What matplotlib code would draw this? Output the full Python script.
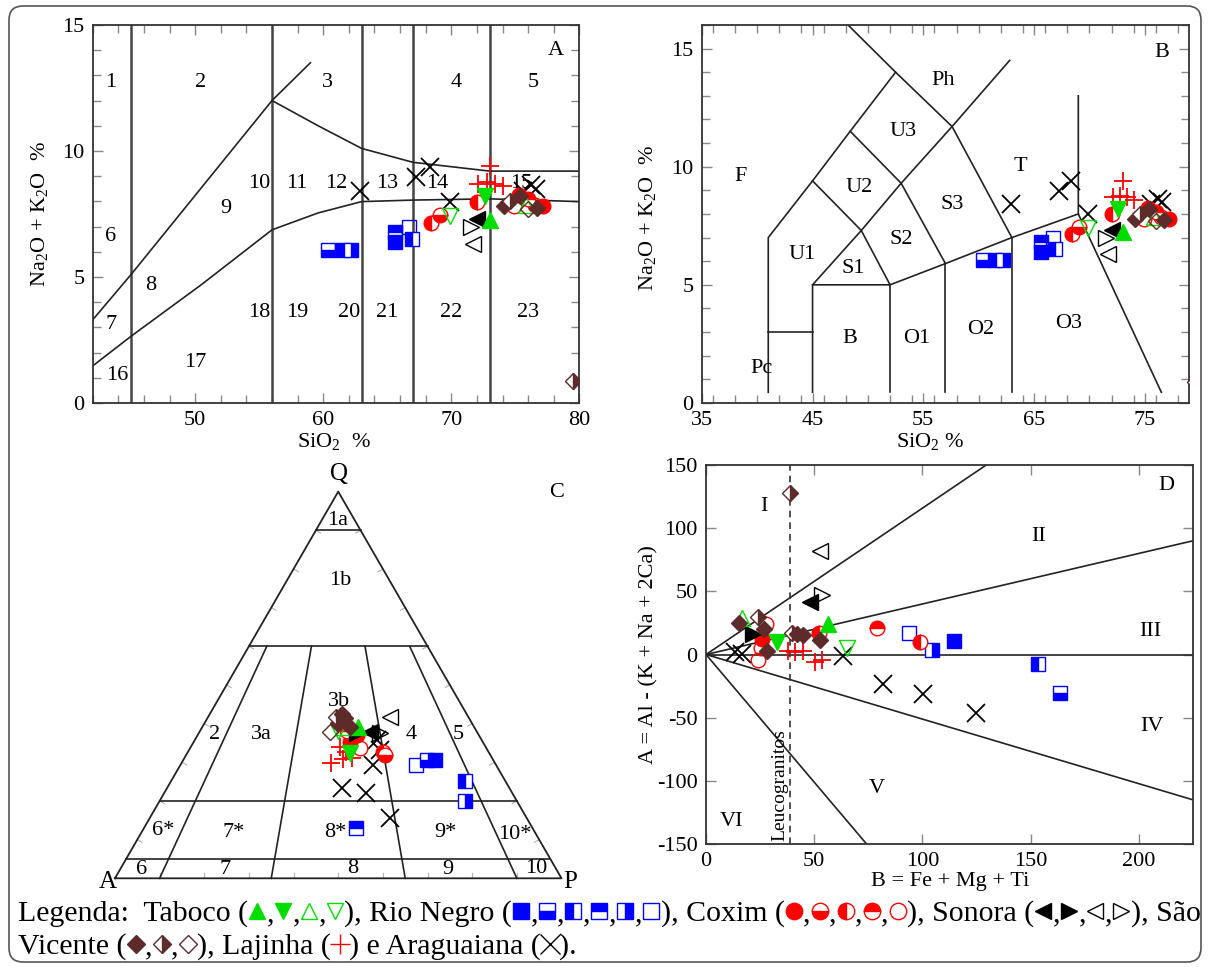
import numpy as np
import matplotlib
matplotlib.use('Agg')
import matplotlib.pyplot as plt
from matplotlib.patches import FancyBboxPatch
from matplotlib.ticker import MultipleLocator, FixedLocator

plt.rcParams['font.family'] = ['Liberation Serif', 'DejaVu Serif']
plt.rcParams['mathtext.fontset'] = 'custom'
plt.rcParams['mathtext.rm'] = 'Liberation Serif'
plt.rcParams['axes.unicode_minus'] = False

# colours of the units
GREEN = '#00dd00'
BLUE = '#0000ff'
RED = '#ff0000'
BROWN = '#5e2b2b'
BLACK = '#000000'

# marker styles per unit (index used by the *_sty lists)
tab_styles = [('^', 'full'), ('v', 'full'), ('^', 'none'), ('v', 'none')]
rn_styles = [('s', 'full'), ('s', 'bottom'), ('s', 'left'), ('s', 'top'), ('s', 'right'), ('s', 'none')]
cx_styles = [('o', 'full'), ('o', 'bottom'), ('o', 'left'), ('o', 'top'), ('o', 'none')]
so_styles = [('<', 'full'), ('>', 'full'), ('<', 'none'), ('>', 'none')]
sv_styles = [('D', 'full'), ('D', 'right'), ('D', 'none')]
lj_styles = [('+', 'full')]
ar_styles = [('x', 'full')]

# ---- A and B: SiO2 vs Na2O+K2O ----
tab_sio2 = [73.0, 72.6, 75.8, 69.9]
tab_alk = [7.25, 8.2, 7.85, 7.4]
tab_sty = [0, 1, 2, 3]

rn_sio2 = [60.4, 61.45, 62.2, 65.6, 65.6, 66.7, 66.9]
rn_alk = [6.07, 6.07, 6.07, 6.8, 6.4, 7.0, 6.5]
rn_sty = [1, 0, 4, 3, 0, 5, 2]

cx_sio2 = [68.4, 69.1, 72.0, 74.9, 76.5, 77.2, 75.3, 76.0]
cx_alk = [7.15, 7.46, 7.99, 7.8, 7.85, 7.8, 8.25, 8.1]
cx_sty = [2, 1, 2, 4, 4, 0, 0, 3]

so_sio2 = [72.0, 71.5, 71.7]
so_alk = [7.3, 7.0, 6.3]
so_sty = [0, 3, 2]

sv_sio2 = [74.1, 74.6, 75.4, 76.0, 76.7, 79.5]
sv_alk = [7.8, 8.0, 8.2, 7.7, 7.75, 0.87]
sv_sty = [0, 1, 0, 2, 0, 1]

lj_sio2 = [73.0, 72.1, 73.4, 74.0, 72.8]
lj_alk = [9.4, 8.7, 8.7, 8.6, 8.75]

ar_sio2 = [62.9, 67.25, 68.3, 69.9, 75.6, 76.2, 76.6]
ar_alk = [8.4, 8.98, 9.38, 7.99, 8.4, 8.65, 8.5]

# ---- C: QAP (Q, A, P in %) ----
tab_q = [39.2, 39.2, 32.3, 38.0]
tab_a = [29.3, 25.9, 31.3, 31.0]
tab_p = [31.5, 34.9, 36.4, 31.0]
tab_qsty = [2, 0, 1, 3]

rn_q = [29.3, 30.6, 30.6, 25.2, 20.1, 12.9]
rn_a = [18.0, 14.9, 13.1, 9.0, 11.6, 39.5]
rn_p = [52.7, 54.5, 56.3, 65.8, 68.3, 47.6]
rn_qsty = [5, 1, 0, 2, 4, 3]

cx_q = [37.1, 35.3, 33.6, 32.7, 32.0, 38.2]
cx_a = [27.3, 29.8, 28.4, 23.7, 23.5, 29.0]
cx_p = [35.6, 34.9, 38.0, 43.6, 44.5, 32.8]
cx_qsty = [0, 0, 4, 2, 1, 3]

so_q = [41.8, 37.9, 37.5, 37.5]
so_a = [17.5, 24.0, 21.9, 27.1]
so_p = [40.7, 38.1, 40.6, 35.4]
so_qsty = [2, 0, 3, 1]

sv_q = [37.9, 40.1, 41.4, 41.8, 39.2, 42.6]
sv_a = [33.0, 29.9, 27.8, 29.5, 27.8, 27.9]
sv_p = [29.1, 30.0, 30.8, 28.7, 33.0, 29.5]
sv_qsty = [2, 0, 0, 1, 0, 0]

lj_q = [29.7, 30.8, 31.0, 34.0, 32.7]
lj_a = [36.7, 33.5, 31.5, 32.6, 31.8]
lj_p = [33.6, 35.7, 37.5, 33.4, 35.5]

ar_q = [29.3, 23.3, 22.0, 15.5, 33.2, 35.8]
ar_a = [27.5, 37.6, 32.7, 30.7, 24.1, 23.5]
ar_p = [43.2, 39.1, 45.3, 53.8, 42.7, 40.7]

# ---- D: B = Fe+Mg+Ti vs A = Al-(K+Na+2Ca) ----
tab_b = [56.6, 32.7, 16.5, 65.1]
tab_A = [24.1, 10.1, 28.7, 4.9]
tab_dsty = [0, 1, 2, 3]

rn_b = [94.0, 104.4, 114.7, 153.3, 163.7]
rn_A = [16.8, 3.6, 10.7, -7.5, -30.7]
rn_dsty = [5, 4, 0, 2, 1]

cx_b = [25.8, 79.0, 52.0, 99.0, 27.8, 24.2, 25.5]
cx_A = [12.0, 20.7, 17.3, 10.1, 24.1, -4.4, 5.0]
cx_dsty = [0, 3, 2, 2, 4, 4, 4]

so_b = [48.1, 21.9, 52.7, 53.5]
so_A = [41.8, 16.2, 82.2, 47.1]
so_dsty = [0, 1, 2, 3]

sv_b = [38.9, 15.4, 24.2, 39.6, 45.0, 42.0, 52.7, 28.1, 27.0]
sv_A = [127.6, 25.2, 30.0, 17.3, 15.4, 16.0, 11.5, 3.0, 20.0]
sv_dsty = [1, 0, 1, 1, 0, 0, 0, 0, 0]

lj_b = [38.1, 41.2, 45.0, 50.4, 53.5]
lj_A = [3.0, 1.6, 3.0, -5.7, -4.4]

ar_b = [13.4, 16.5, 63.5, 81.7, 100.2, 124.9]
ar_A = [2.2, 0.5, -1.2, -23.4, -31.5, -46.6]

MS = {'s': 10, 'o': 10.5, '^': 11, 'v': 11, '<': 11, '>': 11, 'D': 8, 'x': 13, '+': 13}
FS = 16


def plot_group(ax, xs, ys, sty, styles, color):
    for x, y, k in zip(xs, ys, sty):
        m, fill = styles[k]
        kw = dict(marker=m, ls='none', color=color, mec=color, ms=MS[m], mew=1.0, zorder=5)
        if m in ('x', '+'):
            kw['mew'] = 1.3
        else:
            kw.update(fillstyle=fill, mfc=color, markerfacecoloralt='white')
        ax.plot([x], [y], **kw)


def style_ax(ax):
    ax.tick_params(which='both', direction='in', top=True, right=True,
                   color='#888888', labelsize=FS, pad=6)
    ax.tick_params(which='major', length=7, width=1)
    ax.tick_params(which='minor', length=6, width=1)
    for s in ax.spines.values():
        s.set_linewidth(1.3)
        s.set_color('#333333')


def tern(q, a, p):
    q, a, p = np.asarray(q, float), np.asarray(a, float), np.asarray(p, float)
    s = q + a + p
    return (p + q / 2) / s, (q / s) * np.sqrt(3) / 2


fig = plt.figure(figsize=(12.09, 9.67), dpi=100)
LC = '#222222'

# ---------------- panel A ----------------
axA = fig.add_axes([0.0767, 0.5833, 0.4025, 0.3909])
axA.set_xlim(42, 80)
axA.set_ylim(0, 15)
axA.xaxis.set_major_locator(FixedLocator([50, 60, 70, 80]))
axA.xaxis.set_minor_locator(MultipleLocator(2))
axA.yaxis.set_major_locator(MultipleLocator(5))
axA.yaxis.set_minor_locator(MultipleLocator(1))
style_ax(axA)
for xv in [45, 56, 63, 67, 73]:
    axA.plot([xv, xv], [0, 15], color='#444444', lw=1.8, zorder=2)
A_curves = [
    [(42, 3.3), (45, 5.1), (56, 12), (59, 13.5)],
    [(56, 12), (59.6, 11.0), (63, 10.1), (67, 9.55), (73, 9.2), (80, 9.2)],
    [(42, 1.47), (45, 2.65), (50.5, 4.7), (56, 6.87), (59.6, 7.54), (63, 7.99),
     (67, 8.05), (73, 8.1), (80, 7.99)],
]
for c in A_curves:
    xs, ys = zip(*c)
    axA.plot(xs, ys, color=LC, lw=1.2, zorder=2)
A_labels = [('1', 43.4, 12.7), ('2', 50.4, 12.7), ('3', 60.3, 12.7), ('4', 70.4, 12.7),
            ('5', 76.4, 12.7), ('6', 43.4, 6.6), ('7', 43.4, 3.13), ('8', 46.5, 4.67),
            ('9', 52.4, 7.7), ('10', 55.0, 8.7), ('11', 57.9, 8.7), ('12', 61.0, 8.7),
            ('13', 65.0, 8.7), ('14', 68.9, 8.7), ('15', 75.5, 8.7), ('16', 43.9, 1.07),
            ('17', 50.0, 1.6), ('18', 55.0, 3.6), ('19', 58.0, 3.6), ('20', 62.0, 3.6),
            ('21', 65.0, 3.6), ('22', 70.0, 3.6), ('23', 76.0, 3.6), ('A', 78.2, 14.0)]
for t, x, y in A_labels:
    axA.text(x, y, t, fontsize=FS, ha='center', va='center', zorder=3)
axA.set_xlabel(r'SiO$_\mathregular{2}$  %', fontsize=FS)
axA.set_ylabel(r'Na$_\mathregular{2}$O + K$_\mathregular{2}$O  %', fontsize=FS)
axA.xaxis.set_label_coords(0.495, -0.075)
axA.yaxis.set_label_coords(-0.086, 0.5)

# ---------------- panel B ----------------
axB = fig.add_axes([0.5805, 0.5833, 0.4030, 0.3909])
axB.set_xlim(35, 79)
axB.set_ylim(0, 16)
axB.xaxis.set_major_locator(FixedLocator([35, 45, 55, 65, 75]))
axB.xaxis.set_minor_locator(MultipleLocator(2))
axB.yaxis.set_major_locator(FixedLocator([0, 5, 10, 15]))
axB.yaxis.set_minor_locator(MultipleLocator(1))
style_ax(axB)
B_lines = [
    [(41, 0.45), (41, 7), (45, 9.4), (48.4, 11.5), (52.5, 14), (48.2, 16)],
    [(41, 3), (45, 3)],
    [(45, 0.45), (45, 5), (52, 5), (57, 5.9), (63, 7), (69, 8)],
    [(45, 5), (49.4, 7.3), (53, 9.3), (57.6, 11.7), (62.8, 14.5)],
    [(45, 9.4), (49.4, 7.3), (52, 5)],
    [(48.4, 11.5), (53, 9.3), (57, 5.9)],
    [(52.5, 14), (57.6, 11.7), (63, 7)],
    [(52, 0.45), (52, 5)],
    [(57, 0.45), (57, 5.9)],
    [(63, 0.45), (63, 7)],
    [(69, 13), (69, 8), (76.5, 0.45)],
]
for c in B_lines:
    xs, ys = zip(*c)
    axB.plot(xs, ys, color=LC, lw=1.2, zorder=2, clip_on=True)
B_labels = [('F', 38.5, 9.6), ('U1', 44.1, 6.3), ('S1', 48.7, 5.67), ('U2', 49.2, 9.1),
            ('S2', 53.0, 6.9), ('U3', 53.2, 11.5), ('S3', 57.6, 8.4), ('Ph', 56.8, 13.65),
            ('T', 63.8, 10.0), ('B', 48.4, 2.74), ('Pc', 40.4, 1.47), ('O1', 54.4, 2.74),
            ('O2', 60.2, 3.1), ('O3', 68.1, 3.38), ('B', 76.5, 14.85)]
for t, x, y in B_labels:
    axB.text(x, y, t, fontsize=FS, ha='center', va='center', zorder=3)
axB.set_xlabel(r'SiO$_\mathregular{2}$ %', fontsize=FS)
axB.set_ylabel(r'Na$_\mathregular{2}$O + K$_\mathregular{2}$O  %', fontsize=FS)
axB.xaxis.set_label_coords(0.468, -0.075)
axB.yaxis.set_label_coords(-0.088, 0.49)

for ax in (axA, axB):
    plot_group(ax, rn_sio2, rn_alk, rn_sty, rn_styles, BLUE)
    plot_group(ax, ar_sio2, ar_alk, [0] * len(ar_sio2), ar_styles, BLACK)
    plot_group(ax, cx_sio2, cx_alk, cx_sty, cx_styles, RED)
    plot_group(ax, so_sio2, so_alk, so_sty, so_styles, BLACK)
    plot_group(ax, lj_sio2, lj_alk, [0] * len(lj_sio2), lj_styles, RED)
    plot_group(ax, tab_sio2, tab_alk, tab_sty, tab_styles, GREEN)
    plot_group(ax, sv_sio2, sv_alk, sv_sty, sv_styles, BROWN)

# ---------------- panel C (QAP) ----------------
axC = fig.add_axes([0.0744, 0.0848, 0.4218, 0.4395])
axC.set_xlim(-0.056, 1.086)
axC.set_ylim(-0.015, 0.9368)
axC.axis('off')
h = np.sqrt(3) / 2
axC.plot([0, 1, 0.5, 0], [0, 0, h, 0], color=LC, lw=1.3, zorder=2)
for qv in [90, 60, 20, 5]:
    x1, y1 = tern(qv, 100 - qv, 0)
    x2, y2 = tern(qv, 0, 100 - qv)
    axC.plot([x1, x2], [y1, y2], color=LC, lw=1.2, zorder=2)
for r in [0.1, 0.35, 0.65, 0.9]:
    xt, yt = tern(60, 40 * (1 - r), 40 * r)
    xb, yb = tern(0, 100 * (1 - r), 100 * r)
    axC.plot([xt, xb], [yt, yb], color=LC, lw=1.2, zorder=2)
tl = 0.012
for t in np.arange(0.1, 0.95, 0.1):
    axC.plot([t, t], [0, tl], color='#b0b0b0', lw=0.8, zorder=1)
    axC.plot([0.5 * t, 0.5 * t + tl * h], [h * t, h * t - tl * 0.5], color='#b0b0b0', lw=0.8, zorder=1)
    axC.plot([1 - 0.5 * t, 1 - 0.5 * t - tl * h], [h * t, h * t - tl * 0.5], color='#b0b0b0', lw=0.8, zorder=1)
C_labels = [('1a', 0.498, 0.802), ('1b', 0.504, 0.668), ('3b', 0.502, 0.396), ('2', 0.222, 0.321),
            ('3a', 0.328, 0.321), ('4', 0.664, 0.321), ('5', 0.769, 0.321), ('6*', 0.107, 0.107),
            ('7*', 0.266, 0.102), ('8*', 0.4925, 0.102), ('9*', 0.741, 0.102), ('10*', 0.895, 0.097),
            ('6', 0.06, 0.02), ('7', 0.246, 0.02), ('8', 0.532, 0.022), ('9', 0.746, 0.02),
            ('10', 0.944, 0.022), ('C', 0.989, 0.863)]
for t, x, y in C_labels:
    axC.text(x, y, t, fontsize=FS, ha='center', va='center', zorder=3)
axC.text(0.502, 0.905, 'Q', fontsize=18, ha='center', va='center')
axC.text(-0.016, -0.008, 'A', fontsize=18, ha='center', va='center')
axC.text(1.02, -0.008, 'P', fontsize=18, ha='center', va='center')

groupsC = [(rn_q, rn_a, rn_p, rn_qsty, rn_styles, BLUE),
           (ar_q, ar_a, ar_p, [0] * 6, ar_styles, BLACK),
           (lj_q, lj_a, lj_p, [0] * 5, lj_styles, RED),
           (cx_q, cx_a, cx_p, cx_qsty, cx_styles, RED),
           (so_q, so_a, so_p, so_qsty, so_styles, BLACK),
           (tab_q, tab_a, tab_p, tab_qsty, tab_styles, GREEN),
           (sv_q, sv_a, sv_p, sv_qsty, sv_styles, BROWN)]
for q, a, p, sty, styles, col in groupsC:
    xs, ys = tern(q, a, p)
    plot_group(axC, xs, ys, sty, styles, col)

# ---------------- panel D ----------------
axD = fig.add_axes([0.5840, 0.1272, 0.4026, 0.3919])
axD.set_xlim(0, 225)
axD.set_ylim(-150, 150)
axD.xaxis.set_major_locator(MultipleLocator(50))
axD.yaxis.set_major_locator(MultipleLocator(50))
style_ax(axD)
D_lines = [[(0, 0), (129.5, 150)], [(0, 0), (225, 90)], [(0, 0), (225, 0)],
           [(0, 0), (225, -115)], [(0, 0), (74.2, -150)]]
for c in D_lines:
    xs, ys = zip(*c)
    axD.plot(xs, ys, color=LC, lw=1.2, zorder=2)
axD.plot([39, 39], [-150, 150], color='#333333', lw=1.2, ls=(0, (4, 3)), zorder=2)
axD.text(34, -103, 'Leucogranitos', rotation=90, fontsize=14, ha='center', va='center')
D_labels = [('D', 213, 134), ('I', 26.6, 117.5), ('II', 153.6, 93.8), ('III', 205.5, 18),
            ('IV', 206.3, -57), ('V', 78.9, -106), ('VI', 11.9, -132)]
for t, x, y in D_labels:
    axD.text(x, y, t, fontsize=FS, ha='center', va='center', zorder=3)
axD.set_xlabel('B = Fe + Mg + Ti', fontsize=FS)
axD.set_ylabel('A = Al - (K + Na + 2Ca)', fontsize=FS)
axD.xaxis.set_label_coords(0.501, -0.075)
axD.yaxis.set_label_coords(-0.097, 0.5)

plot_group(axD, rn_b, rn_A, rn_dsty, rn_styles, BLUE)
plot_group(axD, ar_b, ar_A, [0] * len(ar_b), ar_styles, BLACK)
plot_group(axD, lj_b, lj_A, [0] * len(lj_b), lj_styles, RED)
plot_group(axD, cx_b, cx_A, cx_dsty, cx_styles, RED)
plot_group(axD, so_b, so_A, so_dsty, so_styles, BLACK)
plot_group(axD, tab_b, tab_A, tab_dsty, tab_styles, GREEN)
plot_group(axD, sv_b, sv_A, sv_dsty, sv_styles, BROWN)

# ---------------- legend text + border ----------------
ov = fig.add_axes([0, 0, 1, 1], zorder=-1)
ov.set_xlim(0, 1209)
ov.set_ylim(967, 0)
ov.axis('off')
ov.add_patch(FancyBboxPatch((9, 6), 1192, 956, boxstyle='round,pad=0,rounding_size=14',
                            fill=False, ec='#555555', lw=1.2))


def mk(m, fill, col):
    return ('m', m, fill, col)


line1 = [('t', 'Legenda:  Taboco (', BLACK), mk('^', 'full', GREEN), ('t', ',', BLACK),
         mk('v', 'full', GREEN), ('t', ',', BLACK), mk('^', 'none', GREEN), ('t', ',', BLACK),
         mk('v', 'none', GREEN), ('t', '), Rio Negro (', BLACK)]
for i, (m, f) in enumerate(rn_styles):
    line1.append(mk(m, f, BLUE))
    line1.append(('t', ',' if i < 5 else '), Coxim (', BLACK))
for i, (m, f) in enumerate(cx_styles):
    line1.append(mk(m, f, RED))
    line1.append(('t', ',' if i < 4 else '), Sonora (', BLACK))
for i, (m, f) in enumerate(so_styles):
    line1.append(mk(m, f, BLACK))
    line1.append(('t', ',' if i < 3 else '), São', BLACK))
line2 = [('t', 'Vicente (', BLACK)]
for i, (m, f) in enumerate(sv_styles):
    line2.append(mk(m, f, BROWN))
    line2.append(('t', ',' if i < 2 else '), Lajinha (', BLACK))
line2 += [mk('+', 'full', RED), ('t', ') e Araguaiana (', BLACK), mk('x', 'full', BLACK), ('t', ').', BLACK)]


def write_line(tokens, x0, y, fs):
    r = fig.canvas.get_renderer()
    arts = []
    x = x0
    px = fs * 100 / 72.0
    for tok in tokens:
        if tok[0] == 't':
            t = ov.text(x, y, tok[1], fontsize=fs, color=tok[2], ha='left', va='baseline')
            x += t.get_window_extent(r).width
            arts.append(t)
        else:
            m, f, col = tok[1:]
            w = px * 0.62
            if m in ('x', '+'):
                ms = fs * 0.65
            elif m == 'D':
                ms = fs * 0.42
            else:
                ms = fs * 0.55
            kw = dict(marker=m, ls='none', color=col, mec=col, ms=ms, mew=1.0)
            if m not in ('x', '+'):
                kw.update(fillstyle=f, mfc=col, markerfacecoloralt='white')
            ln, = ov.plot([x + w / 2], [y - px * 0.32], **kw)
            arts.append(ln)
            x += w
    return x, arts


fs0 = 19
end, arts = write_line(line1, 18, 921, fs0)
for a in arts:
    a.remove()
fs1 = fs0 * (1197 - 18) / (end - 18)
write_line(line1, 18, 921, fs1)
write_line(line2, 18, 954, fs1)

fig.savefig('out.png', dpi=100)
